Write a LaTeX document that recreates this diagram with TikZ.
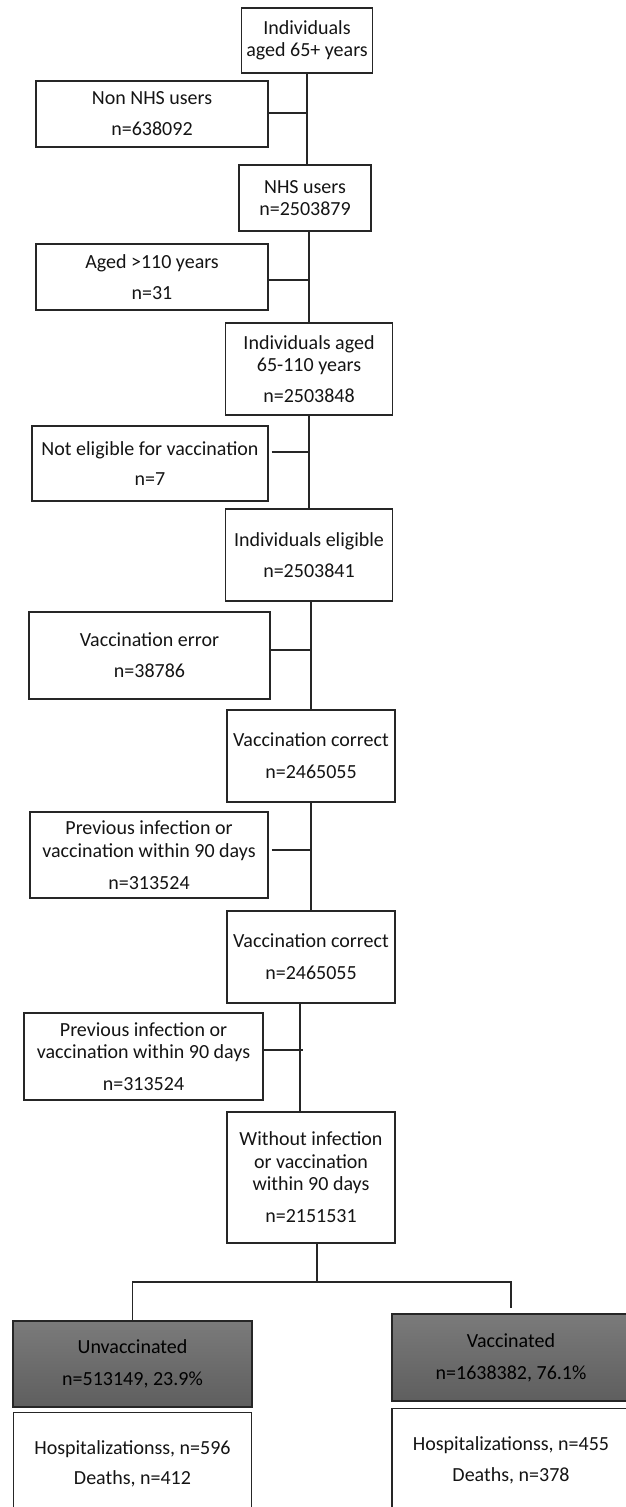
\documentclass[tikz,border=0pt]{standalone}
\usepackage{fontspec}
\setmainfont{Carlito}
\usetikzlibrary{positioning}

\begin{document}
\begin{tikzpicture}[x=1pt,y=-1pt,line width=1.3pt,
                    main node/.style={draw=black!85,align=center,inner sep=0pt,text=black!92,
                      font=\fontsize{20}{22.5}\selectfont},
                    group node/.style={main node,top color=black!52,bottom color=black!63,text=black},
                    every edge/.style={draw=black!85}]

  \useasboundingbox (0,0) rectangle (625,1507);

  \node[main node,minimum width=131pt,minimum height=65pt] (1) at (307,40.5) {Individuals\\aged 65+ years};
  \node[main node,minimum width=232pt,minimum height=66pt] (2) at (152,114) {Non NHS users\\[8.5pt]n=638092};
  \node[main node,minimum width=132pt,minimum height=66pt] (3) at (305,198) {NHS users\\n=2503879};
  \node[main node,minimum width=232pt,minimum height=66pt] (4) at (152,277) {Aged >110 years\\[8.5pt]n=31};
  \node[main node,minimum width=167pt,minimum height=92pt] (5) at (309,369) {Individuals aged\\65-110 years\\[8.5pt]n=2503848};
  \node[main node,minimum width=236pt,minimum height=75pt] (6) at (150,463.5) {Not eligible for vaccination\\[8pt]n=7};
  \node[main node,minimum width=167pt,minimum height=92pt] (7) at (309,555) {Individuals eligible\\[8.5pt]n=2503841};
  \node[main node,minimum width=241pt,minimum height=87pt] (8) at (149.5,655.5) {Vaccination error\\[8.5pt]n=38786};
  \node[main node,minimum width=168pt,minimum height=92pt] (9) at (311,756) {Vaccination correct\\[9.5pt]n=2465055};
  \node[main node,minimum width=238pt,minimum height=86pt] (10) at (149,855) {Previous infection or\\vaccination within 90 days\\[9.5pt]n=313524};
  \node[main node,minimum width=168pt,minimum height=92pt] (11) at (311,957) {Vaccination correct\\[9.5pt]n=2465055};
  \node[main node,minimum width=239pt,minimum height=87pt] (12) at (143.5,1056.5) {Previous infection or\\vaccination within 90 days\\[9.5pt]n=313524};
  \node[main node,minimum width=168pt,minimum height=131pt] (13) at (311,1177.5) {Without infection\\or vaccination\\within 90 days\\[9.5pt]n=2151531};
  \coordinate (split) at (317,1282);

  \node[group node,minimum width=239pt,minimum height=86pt] (14) at (132.5,1364) {Unvaccinated\\[9.5pt]n=513149, 23.9\%};
  \node[main node,minimum width=238pt,minimum height=104pt] (15) [below=4pt of 14] {Hospitalizationss, n=596\\[7.5pt]Deaths, n=412};
  \node[group node,minimum width=238pt,minimum height=87pt] (16) at (511,1357.5) {Vaccinated\\[9.5pt]n=1638382, 76.1\%};
  \node[main node,minimum width=238pt,minimum height=104pt] (17) [below=6pt of 16] {Hospitalizationss, n=455\\[8.5pt]Deaths, n=378};

  \path
    (1.south) edge (1.south |- 3.north)
    ([yshift=1pt]2.east) edge ([yshift=1pt]2.east -| 1.south)
    (3.south -| 5.north) edge (5.north)
    ([yshift=-3pt]4.east) edge ([yshift=-3pt]4.east -| 5.north)
    (5.south) edge (7.north)
    ([xshift=3pt,yshift=11.5pt]6.east) edge ([yshift=11.5pt]6.east -| 5.south)
    (7.south -| 9.north) edge (9.north)
    ([yshift=5.5pt]8.east) edge ([yshift=5.5pt]8.east -| 9.north)
    (9.south) edge (11.north)
    ([xshift=3pt,yshift=5pt]10.east) edge ([yshift=5pt]10.east -| 9.south)
    ([xshift=-11pt]11.south) edge ([xshift=-11pt]13.north)
    ([yshift=6.5pt]12.east) edge ([xshift=-8pt,yshift=6.5pt]12.east -| 11.south)
    ([xshift=6pt]13.south) edge (split)
    (split) edge[to path={-| (\tikztotarget)}] (14.north)
    (split) edge[to path={-| (\tikztotarget)}] ([yshift=5pt]16.north);

\end{tikzpicture}
\end{document}
